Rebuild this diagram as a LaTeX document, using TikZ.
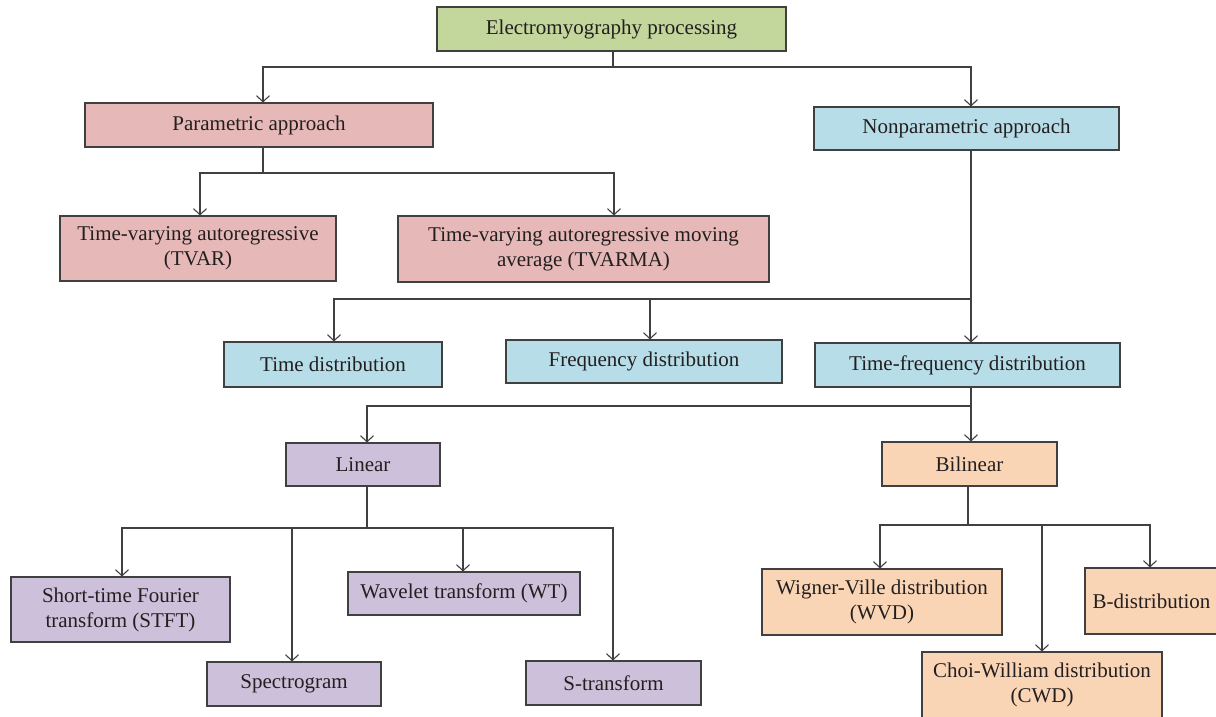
\documentclass[tikz,border=0pt]{standalone}
\usepackage{fontspec}
\setmainfont{Liberation Serif}
\usetikzlibrary{arrows.meta}
\definecolor{cgreen}{HTML}{C3D69B}
\definecolor{cpink}{HTML}{E6B8B7}
\definecolor{cblue}{HTML}{B7DDE8}
\definecolor{cpurple}{HTML}{CCC0DA}
\definecolor{corange}{HTML}{FAD5B5}
\definecolor{cline}{HTML}{404040}
\definecolor{ctext}{HTML}{231F20}
\begin{document}
\begin{tikzpicture}[x=1pt,y=-1pt,
  box/.style={draw=cline, line width=1.1pt, rectangle, inner sep=0pt, align=center,
    text=ctext, font=\fontsize{21}{25}\selectfont},
  conn/.style={draw=cline, line width=1.1pt},
  arr/.style={conn, -{Straight Barb[length=6pt,width=13pt,line width=1.1pt]}}
]
\useasboundingbox (0,0) rectangle (1216,716);
\fill[white] (0,0) rectangle (1216,716);

% nodes
\node[box, fill=cgreen, minimum width=349pt, minimum height=44pt] (emg) at (611.5,29) {Electromyography processing};
\node[box, fill=cpink, minimum width=348pt, minimum height=44pt] (par) at (259,125) {Parametric approach};
\node[box, fill=cblue, minimum width=305pt, minimum height=43pt] (npar) at (966.5,128.5) {Nonparametric approach};
\node[box, fill=cpink, minimum width=276pt, minimum height=65pt] (tvar) at (198,248.5) {Time-varying autoregressive\\(TVAR)};
\node[box, fill=cpink, minimum width=371pt, minimum height=66pt] (tvarma) at (583.5,249) {Time-varying autoregressive moving\\average (TVARMA)};
\node[box, fill=cblue, minimum width=218pt, minimum height=45pt] (timed) at (333,364.5) {Time distribution};
\node[box, fill=cblue, minimum width=276pt, minimum height=43pt] (freqd) at (644,361.5) {Frequency distribution};
\node[box, fill=cblue, minimum width=305pt, minimum height=44pt] (tfd) at (967.5,365) {Time-frequency distribution};
\node[box, fill=cpurple, minimum width=154pt, minimum height=43pt] (lin) at (363,464.5) {Linear};
\node[box, fill=corange, minimum width=175pt, minimum height=44pt] (bil) at (969.5,464) {Bilinear};
\node[box, fill=cpurple, minimum width=219pt, minimum height=65pt] (stft) at (120.5,609.5) {Short-time Fourier\\transform (STFT)};
\node[box, fill=cpurple, minimum width=174pt, minimum height=44pt] (spec) at (294,684) {Spectrogram};
\node[box, fill=cpurple, minimum width=232pt, minimum height=43pt] (wt) at (464,593.5) {Wavelet transform (WT)};
\node[box, fill=cpurple, minimum width=175pt, minimum height=44pt] (st) at (613.5,683) {S-transform};
\node[box, fill=corange, minimum width=240pt, minimum height=66pt] (wvd) at (882,602) {Wigner-Ville distribution\\(WVD)};
\node[box, fill=corange, minimum width=133pt, minimum height=66pt] (bd) at (1151.5,601) {B-distribution};
\node[box, fill=corange, minimum width=240pt, minimum height=66pt] (cwd) at (1042,685) {Choi-William distribution\\(CWD)};

% junctions
\coordinate (j1) at (613,67);
\coordinate (j2) at (263,173);
\coordinate (j3) at (971,299);
\coordinate (j4) at (971,406);
\coordinate (j5) at (367,528);
\coordinate (j6) at (968,525);

% connectors
\draw[conn] (emg.south -| j1) -- (j1);
\draw[arr] (j1) -| ([xshift=4]par.north);
\draw[arr] (j1) -| ([xshift=4.5]npar.north);

\draw[conn] (par.south -| j2) -- (j2);
\draw[arr] (j2) -| ([xshift=2]tvar.north);
\draw[arr] (j2) -| ([xshift=30.5]tvarma.north);

\draw[conn] (npar.south -| j3) -- (j3);
\draw[arr] (j3) -| ([xshift=1]timed.north);
\draw[arr] (j3) -| ([xshift=6]freqd.north);
\draw[arr] (j3) -- (j3 |- tfd.north);

\draw[conn] (tfd.south -| j4) -- (j4);
\draw[arr] (j4) -| ([xshift=4]lin.north);
\draw[arr] (j4) -- (j4 |- bil.north);

\draw[conn] (lin.south -| j5) -- (j5);
\draw[arr] (j5) -| ([xshift=1.5]stft.north);
\draw[arr] (j5) -| ([xshift=-2]spec.north);
\draw[arr] (j5) -| ([xshift=-1]wt.north);
\draw[arr] (j5) -| ([xshift=-0.5]st.north);

\draw[conn] (bil.south -| j6) -- (j6);
\draw[arr] (j6) -| ([xshift=-2]wvd.north);
\draw[arr] (j6) -| (cwd.north);
\draw[arr] (j6) -| ([xshift=-1.5]bd.north);
\end{tikzpicture}
\end{document}
